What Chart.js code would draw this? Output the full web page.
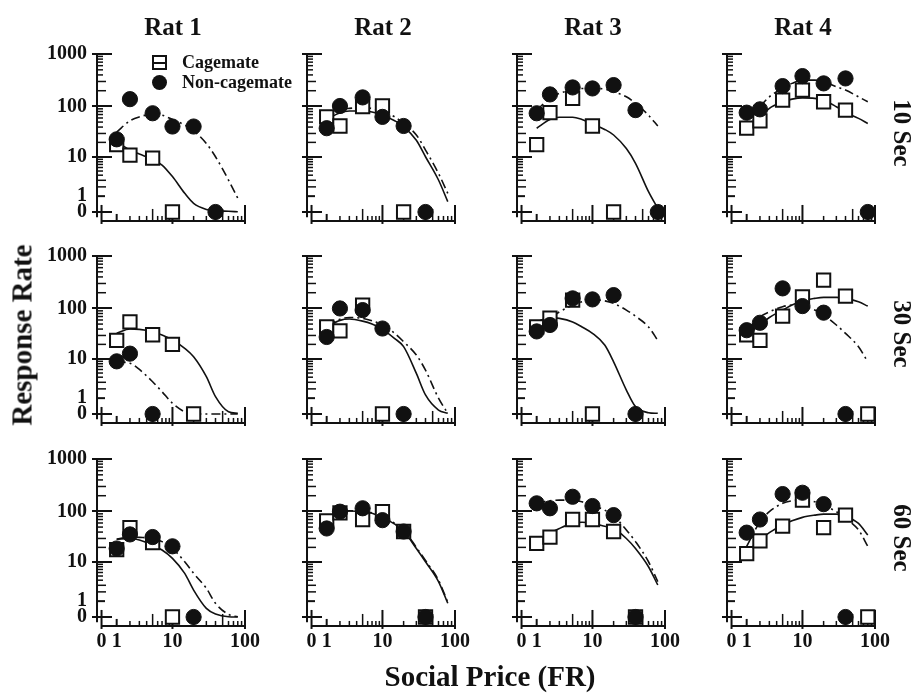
<!DOCTYPE html>
<html>
<head>
<meta charset="utf-8">
<script src="https://cdn.jsdelivr.net/npm/chart.js@4.4.1/dist/chart.umd.min.js"></script>
<style>
body { margin: 0; background: #fff; }
#page { position: relative; width: 915px; height: 693px; overflow: hidden; background: #fff;
  font-family: 'Liberation Serif', 'Times New Roman', serif; font-weight: bold; color: #111; }
.panel { position: absolute; }
.lbl { position: absolute; white-space: nowrap; line-height: 1; }
.lg-sq { position: absolute; width: 11px; height: 11px; border: 2px solid #111; background: #fff; }
.lg-sq:after { content: ''; position: absolute; left: 0; right: 0; top: 4.5px; height: 2px; background: #111; }
.lg-ci { position: absolute; width: 15px; height: 15px; border-radius: 50%; background: #111; }
</style>
</head>
<body>
<div id="page"></div>
<script>
// FR values at which responding was measured
var prices = [1, 2, 5, 10, 20, 40, 80];
// FR values used to trace the fitted curves
var fitPrices = [1, 2, 3, 5, 7, 10, 15, 20, 30, 40, 60, 80];
var rats = ['Rat 1', 'Rat 2', 'Rat 3', 'Rat 4'];
var delays = ['10 Sec', '30 Sec', '60 Sec'];
var xTickVals = [0, 1, 10, 100];
var yTickVals = [0, 1, 10, 100, 1000];

// response rates, one row per rat (null = no point)
var cage10 = [
    [18, 11, 9.5, 0, null, null, null],
    [63, 42, 99, 102, 0, null, null],
    [18, 76, 143, 42, 0, null, null],
    [38, 53, 132, 206, 123, 85, null]
];
var non10 = [
    [23, 138, 74, 41, 41, 0, null],
    [38, 102, 149, 63, 42, 0, null],
    [74, 170, 231, 221, 256, 85, 0],
    [76, 88, 245, 380, 276, 343, 0]
];
var cage30 = [
    [24, 55, 31, 20, 0, null, null],
    [44, 37, 116, 0, null, null, null],
    [44, 65, 145, 0, null, null, null],
    [31, 24, 71, 167, 348, 172, 0]
];
var non30 = [
    [9, 13, 0, null, null, null, null],
    [28, 100, 93, 41, 0, null, null],
    [36, 48, 156, 149, 180, 0, null],
    [38, 53, 242, 111, 83, 0, null]
];
var cage60 = [
    [18, 49, 25, 0, null, null, null],
    [66, 94, 70, 99, 41, 0, null],
    [24, 32, 70, 70, 41, 0, null],
    [15, 27, 52, 165, 49, 85, 0]
];
var non60 = [
    [19, 36, 32, 21, 0, null, null],
    [47, 99, 115, 68, 41, 0, null],
    [143, 115, 191, 127, 85, 0, null],
    [39, 70, 215, 228, 138, 0, null]
];

// fitted curves at fitPrices
var cageFit10 = [
    [20.6, 14, 11.6, 9, 6.8, 3.7, 1.26, 0.46, 0.12, 0.06, 0.03, 0.01],
    [56, 76, 82, 82, 78, 68, 53, 41, 22, 10.2, 3.05, 0.57],
    [38, 56, 62, 62, 56, 46, 36, 28, 15, 7.4, 1.43, 0.17],
    [41, 59, 92, 123, 138, 146, 143, 132, 99, 77, 59, 47]
];
var nonFit10 = [
    [32, 53, 63, 71, 68, 56, 44, 34, 19, 10.2, 3.05, 0.82],
    [59, 85, 92, 94, 92, 79, 63, 47, 28, 14, 4.4, 1.26],
    [85, 143, 178, 206, 221, 221, 215, 191, 153, 115, 68, 42],
    [55, 99, 153, 221, 276, 319, 319, 296, 238, 206, 153, 123]
];
var cageFit30 = [
    [33, 40, 39.5, 35.5, 30.6, 24.4, 16.7, 11.2, 4.1, 1.13, 0.1, 0.03],
    [44, 59, 62.5, 57, 50, 39.5, 26, 18, 4.9, 1.3, 0.19, 0.03],
    [55, 67, 64.5, 55, 44, 33, 19.4, 8.8, 1.85, 0.38, 0.06, 0.03],
    [31, 48, 67, 93, 116, 140, 156, 163, 163, 156, 134, 111]
];
var nonFit30 = [
    [8.8, 8.2, 6, 3.1, 1.65, 0.6, 0.1, 0, 0, 0, 0, 0],
    [48, 62, 67, 64.5, 58, 48, 33, 22.6, 12.2, 5.8, 1, 0.03],
    [41, 64.5, 86, 115, 134, 145, 140, 125, 93, 71, 44, 24],
    [38, 69, 86, 108, 116, 111, 93, 75, 48, 33, 18, 8.8]
];
var cageFit60 = [
    [29, 30, 28, 22, 17.7, 12, 5.75, 2.25, 0.46, 0.14, 0.01, 0],
    [70, 94, 102, 99, 92, 77, 57, 42, 19, 10.2, 3.7, 0.82],
    [26, 38, 47, 59, 62, 59, 52, 47, 30, 19, 8, 3.05],
    [16, 28, 39, 55, 66, 77, 85, 89, 89, 81.5, 59, 35]
];
var nonFit60 = [
    [29, 32, 31.5, 30, 26, 19, 10.2, 5.75, 2.5, 0.82, 0.12, 0.01],
    [72, 96, 103, 100, 94, 79, 59, 44, 20, 10.8, 4, 0.9],
    [143, 160, 165, 165, 153, 132, 106, 82, 44, 26, 10.2, 3.7],
    [21, 63, 99, 143, 160, 165, 153, 132, 99, 74, 44, 21]
];

var cageRows = [cage10, cage30, cage60];
var nonRows = [non10, non30, non60];
var cageFitRows = [cageFit10, cageFit30, cageFit60];
var nonFitRows = [nonFit10, nonFit30, nonFit60];

// layout (page pixels)
var ROW_ZERO = [212, 414, 617];
var COL_X0 = 94, COL_STEP = 210;
var PLOT_W = 151, PLOT_H = 158;
var PAD_L = 70, PAD_T = 20, PAD_R = 15, PAD_B = 45;
var INK = '#111';
var FONT = "'Liberation Serif', 'Times New Roman', serif";

// axes are log(v + 1); the x zero sits on a short break
function tx(v) { return v === 0 ? 0.1 : Math.log10(v + 1); }
function ty(v) { return Math.log10(v + 1); }
function toPoints(xs, ys) {
    var out = [];
    xs.forEach(function (x, i) {
        if (ys[i] !== null && ys[i] !== undefined) out.push({ x: tx(x), y: ty(ys[i]) });
    });
    return out;
}

var axesPlugin = {
    id: 'ratAxes',
    beforeDatasetsDraw: function (chart) {
        var ctx = chart.ctx, xs = chart.scales.x, ys = chart.scales.y;
        var ax = xs.getPixelForValue(0.04);
        var ay = ys.getPixelForValue(-0.17);
        ctx.save();
        ctx.strokeStyle = INK;
        ctx.lineCap = 'butt';
        // axis lines
        ctx.lineWidth = 2;
        ctx.beginPath();
        ctx.moveTo(ax, ys.getPixelForValue(ty(1000)) - 1);
        ctx.lineTo(ax, ys.getPixelForValue(-0.1));
        ctx.moveTo(xs.getPixelForValue(tx(0)), ay);
        ctx.lineTo(xs.getPixelForValue(tx(100)) + 1, ay);
        ctx.stroke();
        // y major ticks
        [0, 10, 100, 1000].forEach(function (v) {
            var p = Math.round(ys.getPixelForValue(ty(v)));
            ctx.beginPath(); ctx.moveTo(ax - 5, p); ctx.lineTo(ax + 15, p); ctx.stroke();
        });
        ctx.beginPath();
        var p1 = ys.getPixelForValue(ty(1));
        ctx.moveTo(ax, p1); ctx.lineTo(ax + 8, p1); ctx.stroke();
        // y minor ticks
        ctx.lineWidth = 1.5;
        [1, 10, 100].forEach(function (dec) {
            for (var m = 2; m <= 9; m++) {
                var p = ys.getPixelForValue(ty(m * dec));
                var len = m <= 3 ? 9 : 6;
                ctx.beginPath(); ctx.moveTo(ax, p); ctx.lineTo(ax + len, p); ctx.stroke();
            }
        });
        // x major ticks
        ctx.lineWidth = 2;
        [0, 10, 100].forEach(function (v) {
            var p = xs.getPixelForValue(tx(v));
            ctx.beginPath(); ctx.moveTo(p, ay + 3); ctx.lineTo(p, ay - 16); ctx.stroke();
        });
        var q1 = xs.getPixelForValue(tx(1));
        ctx.beginPath(); ctx.moveTo(q1, ay); ctx.lineTo(q1, ay - 7); ctx.stroke();
        // x minor ticks
        ctx.lineWidth = 1.5;
        [1, 10].forEach(function (dec) {
            for (var m = 2; m <= 9; m++) {
                var p = xs.getPixelForValue(tx(m * dec));
                var len = m === 5 ? 12 : 5;
                ctx.beginPath(); ctx.moveTo(p, ay); ctx.lineTo(p, ay - len); ctx.stroke();
            }
        });
        ctx.restore();
    }
};

var page = document.getElementById('page');

function addLabel(text, cx, cy, size, rot) {
    var d = document.createElement('div');
    d.className = 'lbl';
    d.textContent = text;
    d.style.fontSize = size + 'px';
    d.style.left = cx + 'px';
    d.style.top = cy + 'px';
    d.style.transform = 'translate(-50%, -50%)' + (rot ? ' rotate(' + rot + 'deg)' : '');
    page.appendChild(d);
}

function makePanel(r, c) {
    var cv = document.createElement('canvas');
    cv.className = 'panel';
    cv.width = PAD_L + PLOT_W + PAD_R;
    cv.height = PAD_T + PLOT_H + PAD_B;
    cv.style.left = (COL_X0 + COL_STEP * c - PAD_L) + 'px';
    cv.style.top = (ROW_ZERO[r] - PLOT_H - PAD_T) + 'px';
    page.appendChild(cv);

    var tickFont = { family: FONT, size: 20, weight: 'bold' };

    new Chart(cv.getContext('2d'), {
        type: 'line',
        data: {
            datasets: [
                {
                    label: 'Non-cagemate',
                    data: toPoints(prices, nonRows[r][c]),
                    showLine: false,
                    pointStyle: 'circle',
                    pointRadius: 7.6,
                    pointBackgroundColor: INK,
                    pointBorderColor: INK,
                    pointBorderWidth: 1,
                    order: 0,
                    clip: false
                },
                {
                    label: 'Cagemate',
                    data: toPoints(prices, cageRows[r][c]),
                    showLine: false,
                    pointStyle: 'rect',
                    pointRadius: 9.4,
                    pointBackgroundColor: '#fff',
                    pointBorderColor: INK,
                    pointBorderWidth: 2,
                    order: 1,
                    clip: false
                },
                {
                    label: 'Cagemate fit',
                    data: toPoints(fitPrices, cageFitRows[r][c]),
                    borderColor: INK,
                    borderWidth: 1.6,
                    pointRadius: 0,
                    fill: false,
                    cubicInterpolationMode: 'monotone',
                    order: 2,
                    clip: false
                },
                {
                    label: 'Non-cagemate fit',
                    data: toPoints(fitPrices, nonFitRows[r][c]),
                    borderColor: INK,
                    borderWidth: 1.6,
                    borderDash: [9, 4, 2, 4],
                    pointRadius: 0,
                    fill: false,
                    cubicInterpolationMode: 'monotone',
                    order: 3,
                    clip: false
                }
            ]
        },
        options: {
            responsive: false,
            animation: false,
            devicePixelRatio: 1,
            events: [],
            layout: { padding: { left: 0, top: PAD_T, right: PAD_R, bottom: 0 } },
            plugins: { legend: { display: false }, tooltip: { enabled: false } },
            scales: {
                x: {
                    type: 'linear',
                    min: 0,
                    max: Math.log10(101),
                    grid: { display: false, drawTicks: false },
                    border: { display: false },
                    afterBuildTicks: function (s) {
                        s.ticks = xTickVals.map(function (v) { return { value: tx(v) }; });
                    },
                    afterFit: function (s) { s.height = PAD_B; s.paddingLeft = 0; s.paddingRight = 0; },
                    ticks: {
                        display: r === 2,
                        autoSkip: false,
                        maxRotation: 0,
                        padding: 13,
                        color: INK,
                        font: tickFont,
                        callback: function (val, i) { return String(xTickVals[i]); }
                    }
                },
                y: {
                    type: 'linear',
                    min: 0,
                    max: Math.log10(1001),
                    grid: { display: false, drawTicks: false },
                    border: { display: false },
                    afterBuildTicks: function (s) {
                        s.ticks = yTickVals.map(function (v) { return { value: ty(v) }; });
                    },
                    afterFit: function (s) { s.width = PAD_L; s.paddingTop = 0; s.paddingBottom = 0; },
                    ticks: {
                        display: c === 0,
                        autoSkip: false,
                        padding: 7,
                        color: INK,
                        font: tickFont,
                        callback: function (val, i) { return String(yTickVals[i]); }
                    }
                }
            }
        },
        plugins: [axesPlugin]
    });
}

for (var r = 0; r < 3; r++) {
    for (var c = 0; c < 4; c++) makePanel(r, c);
}

// titles and axis names
rats.forEach(function (name, c) { addLabel(name, 173 + COL_STEP * c, 26, 25); });
addLabel(delays[0], 902, 133, 25, 90);
addLabel(delays[1], 902, 334, 25, 90);
addLabel(delays[2], 902, 538, 25, 90);
addLabel('Response Rate', 22, 335, 29, -90);
addLabel('Social Price (FR)', 490, 676, 29);

// legend in the first panel
var sq = document.createElement('div');
sq.className = 'lg-sq';
sq.style.left = '152px'; sq.style.top = '55px';
page.appendChild(sq);
var ci = document.createElement('div');
ci.className = 'lg-ci';
ci.style.left = '152px'; ci.style.top = '75px';
page.appendChild(ci);
var t1 = document.createElement('div');
t1.className = 'lbl'; t1.textContent = 'Cagemate';
t1.style.fontSize = '18px'; t1.style.left = '182px'; t1.style.top = '53px';
page.appendChild(t1);
var t2 = document.createElement('div');
t2.className = 'lbl'; t2.textContent = 'Non-cagemate';
t2.style.fontSize = '18px'; t2.style.left = '182px'; t2.style.top = '73px';
page.appendChild(t2);
</script>
</body>
</html>
